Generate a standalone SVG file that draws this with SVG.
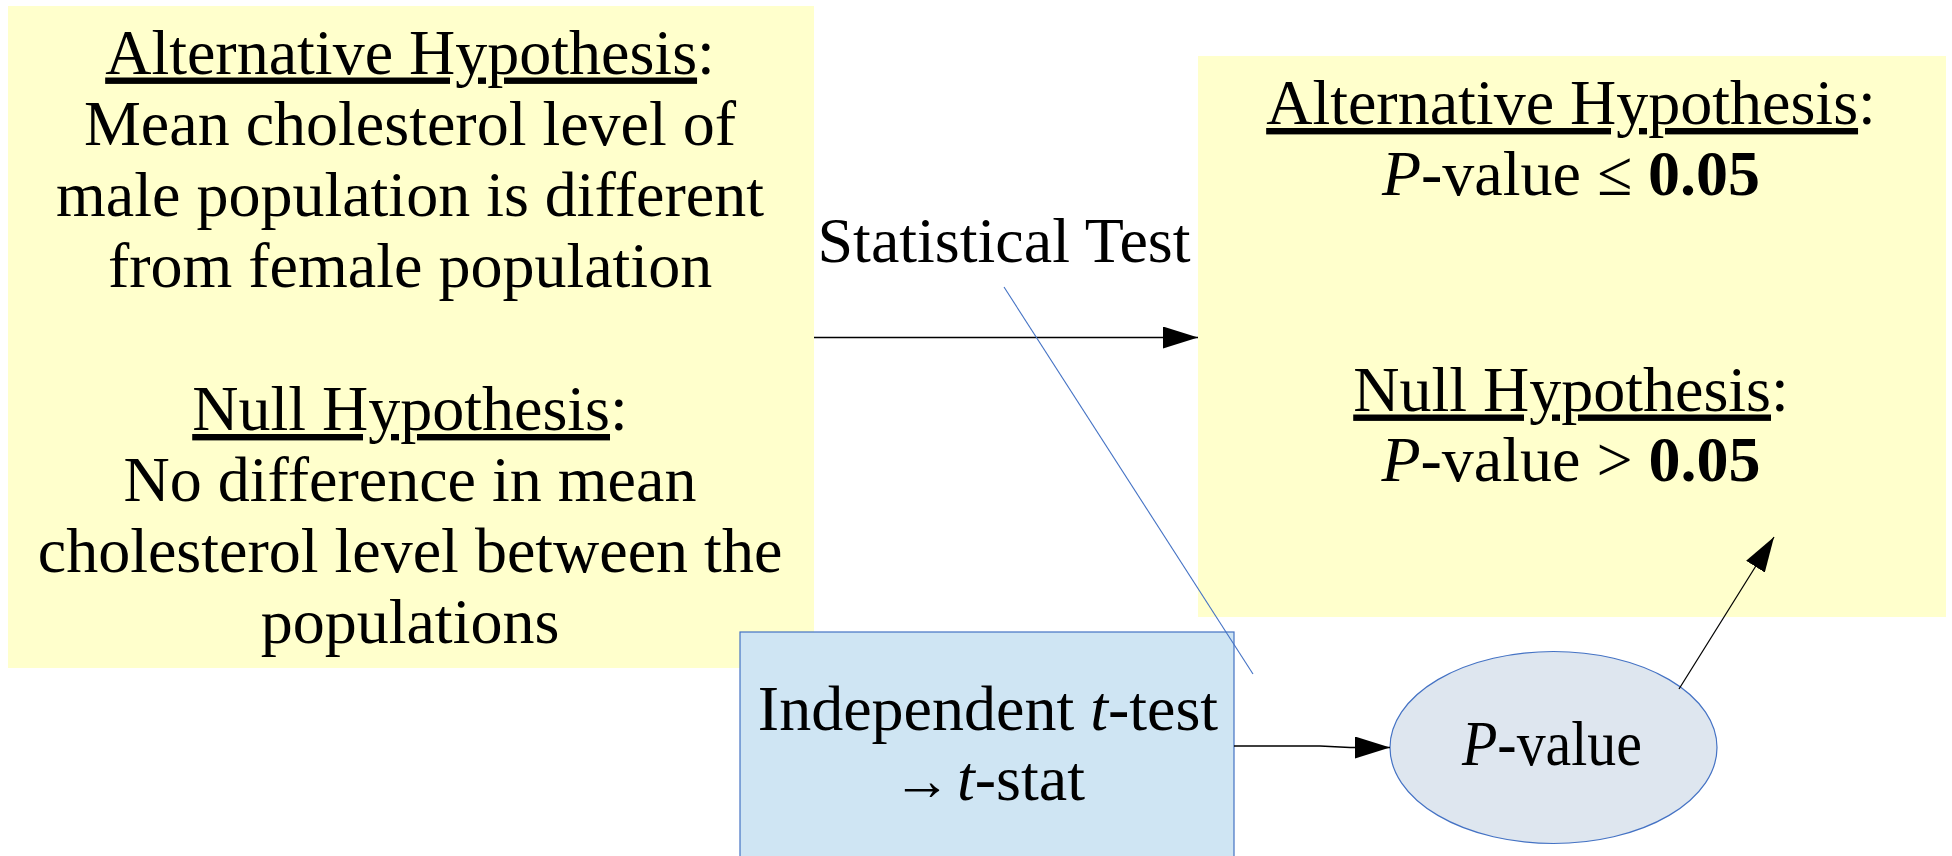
<svg xmlns="http://www.w3.org/2000/svg" width="1952" height="856" viewBox="0 0 1952 856">
<style>
.t{font-family:"Liberation Serif","Times New Roman",serif;font-size:64px;fill:#000;text-anchor:middle}
.u{text-decoration:underline;text-decoration-skip-ink:none}
.i{font-style:italic}
.b{font-weight:bold}
.yel{fill:#ffffcc;stroke:none}
.conn{fill:none;stroke:#000;stroke-width:1.3}
</style>
<defs>
<marker id="ah" viewBox="0 0 35 22" refX="35" refY="11" markerWidth="35" markerHeight="22" markerUnits="userSpaceOnUse" orient="auto">
<path d="M0,0 L35,11 L0,22 z" fill="#000"/>
</marker>
</defs>
<rect width="1952" height="856" fill="#fff"/>
<g id="hypotheses">
<rect class="yel" x="8" y="6" width="806" height="662"/>
<text class="t" x="410" y="73.5"><tspan class="u">Alternative Hypothesis</tspan>:</text>
<text class="t" x="410" y="145">Mean cholesterol level of</text>
<text class="t" x="410" y="216">male population is different</text>
<text class="t" x="410" y="287">from female population</text>
<text class="t" x="410" y="430"><tspan class="u">Null Hypothesis</tspan>:</text>
<text class="t" x="410" y="501">No difference in mean</text>
<text class="t" x="410" y="572">cholesterol level between the</text>
<text class="t" x="410" y="643">populations</text>
</g>
<g id="decision">
<rect class="yel" x="1198" y="56" width="748" height="561"/>
<text class="t" x="1571" y="124"><tspan class="u">Alternative Hypothesis</tspan>:</text>
<text class="t" x="1571" y="194.5"><tspan class="i">P</tspan>-value ≤ <tspan class="b">0.05</tspan></text>
<text class="t" x="1571" y="410.5"><tspan class="u">Null Hypothesis</tspan>:</text>
<text class="t" x="1571" y="480.5"><tspan class="i">P</tspan>-value &gt; <tspan class="b">0.05</tspan></text>
</g>
<g id="ttest">
<rect x="740" y="632" width="494" height="240" fill="#cfe5f3" stroke="#4472c4" stroke-width="1.2"/>
<text class="t" x="988" y="730">Independent <tspan class="i">t</tspan>-test</text>
<text class="t" y="800" style="text-anchor:start"><tspan x="893" style="font-size:58px">→</tspan><tspan x="957" class="i">t</tspan>-stat</text>
</g>
<g id="pvalue">
<ellipse cx="1553.5" cy="747.5" rx="163.5" ry="96" fill="#dee6ef" stroke="#4472c4" stroke-width="1.2"/>
<text class="t" x="1552" y="765" textLength="180" lengthAdjust="spacingAndGlyphs"><tspan class="i">P</tspan>-value</text>
</g>
<g id="label-statistical-test">
<text class="t" x="1004" y="262">Statistical Test</text>
</g>
<g id="connectors">
<line class="conn" x1="814" y1="337.5" x2="1198" y2="337.5" marker-end="url(#ah)"/>
<path class="conn" d="M1234,746 L1320,746 Q1335,746.5 1350,747.5 L1390,747.5" stroke="#333" stroke-width="1.6" marker-end="url(#ah)"/>
<line class="conn" x1="1679" y1="689" x2="1774" y2="537" marker-end="url(#ah)"/>
<line x1="1004" y1="287" x2="1253" y2="674" stroke="#4472c4" stroke-width="1.1"/>
</g>
</svg>
